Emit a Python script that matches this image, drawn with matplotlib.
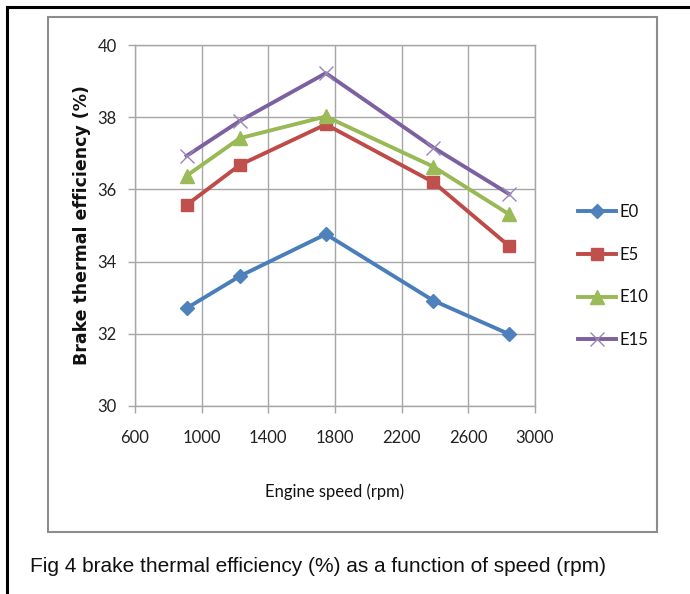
import matplotlib
matplotlib.use("Agg")
import matplotlib.pyplot as plt
from matplotlib.lines import Line2D
from matplotlib.patches import Rectangle

# ---- data ----
speed = [910, 1230, 1745, 2390, 2845]
E0 = [32.71, 33.60, 34.76, 32.92, 31.99]
E5 = [35.57, 36.68, 37.80, 36.20, 34.43]
E10 = [36.38, 37.42, 38.02, 36.63, 35.31]
E15 = [36.93, 37.90, 39.22, 37.16, 35.87]
series_names = ["E0", "E5", "E10", "E15"]
x_ticks = [600, 1000, 1400, 1800, 2200, 2600, 3000]
y_ticks = [30, 32, 34, 36, 38, 40]
x_label = "Engine speed (rpm)"
y_label = "Brake thermal efficiency (%)"
caption = "Fig 4 brake thermal efficiency (%) as a function of speed (rpm)"

narrow = ["Lato", "DejaVu Sans"]

W, H = 690, 594
fig = plt.figure(figsize=(W / 100, H / 100), dpi=100)

def fx(px):
    return px / W

def fy(py):
    return 1 - py / H

# outer black frame (top & left)
fig.add_artist(Line2D([fx(7), 1], [fy(7), fy(7)], color="black", lw=2.2))
fig.add_artist(Line2D([fx(7), fx(7)], [fy(7), 0], color="black", lw=2.2))
# gray chart area box
fig.add_artist(Rectangle((fx(48), fy(532)), fx(657) - fx(48), fy(17) - fy(532),
                         fill=False, edgecolor="#8c8c8c", lw=1.5))

ax = fig.add_axes([fx(135), fy(406), fx(535) - fx(135), fy(45) - fy(406)])

styles = [
    (E0, "#4A7EBB", "#4F81BD", "D", 7.5, 0),
    (E5, "#BE4B48", "#C0504D", "s", 9, 0),
    (E10, "#98B954", "#9BBB59", "^", 9.5, 0),
    (E15, "#7D60A0", "#8064A2", "x", 10, 1.0),
]
for (vals, lc, mc, mk, ms, mew), name in zip(styles, series_names):
    if mk == "x":
        ax.plot(speed, vals, color=lc, lw=2.8, marker=mk, markersize=ms,
                markeredgecolor="#9a86b8", markeredgewidth=mew, label=name)
    else:
        ax.plot(speed, vals, color=lc, lw=2.8, marker=mk, markersize=ms,
                markerfacecolor=mc, markeredgecolor=mc, label=name)

ax.set_xlim(600, 3000)
ax.set_ylim(30, 40)
ax.set_xticks(x_ticks)
ax.set_yticks(y_ticks)
ax.set_xticklabels([str(v) for v in x_ticks], family=narrow, fontsize=12, color="#222222")
ax.set_yticklabels([str(v) for v in y_ticks], family=narrow, fontsize=12, color="#222222")
ax.grid(True, color="#a6a6a6", lw=1.0)
ax.set_axisbelow(True)
for s in ["top", "right", "left", "bottom"]:
    ax.spines[s].set_color("#a6a6a6")
    ax.spines[s].set_linewidth(1.0)
ax.tick_params(axis="both", direction="out", length=5, width=1.0, color="#a6a6a6")
ax.tick_params(axis="x", pad=12)
ax.tick_params(axis="y", pad=8)

fig.text(fx(82), fy(225), y_label, rotation=90, ha="center", va="center",
         fontsize=12.5, fontweight="bold", family="DejaVu Sans", color="#111111")
fig.text(fx(335), fy(492), x_label, ha="center", va="center",
         fontsize=12, family=narrow, color="#111111")

leg = ax.legend(loc="center left", bbox_to_anchor=(fx(563), fy(276)),
                bbox_transform=fig.transFigure, frameon=False,
                prop={"family": narrow, "size": 12}, handlelength=2.3,
                labelspacing=1.6, handletextpad=0.2)
for t in leg.get_texts():
    t.set_color("#111111")

fig.text(fx(30), fy(566), caption, ha="left", va="center",
         fontsize=15, family="Liberation Sans", color="#111111")

fig.savefig("out.png", dpi=100)
